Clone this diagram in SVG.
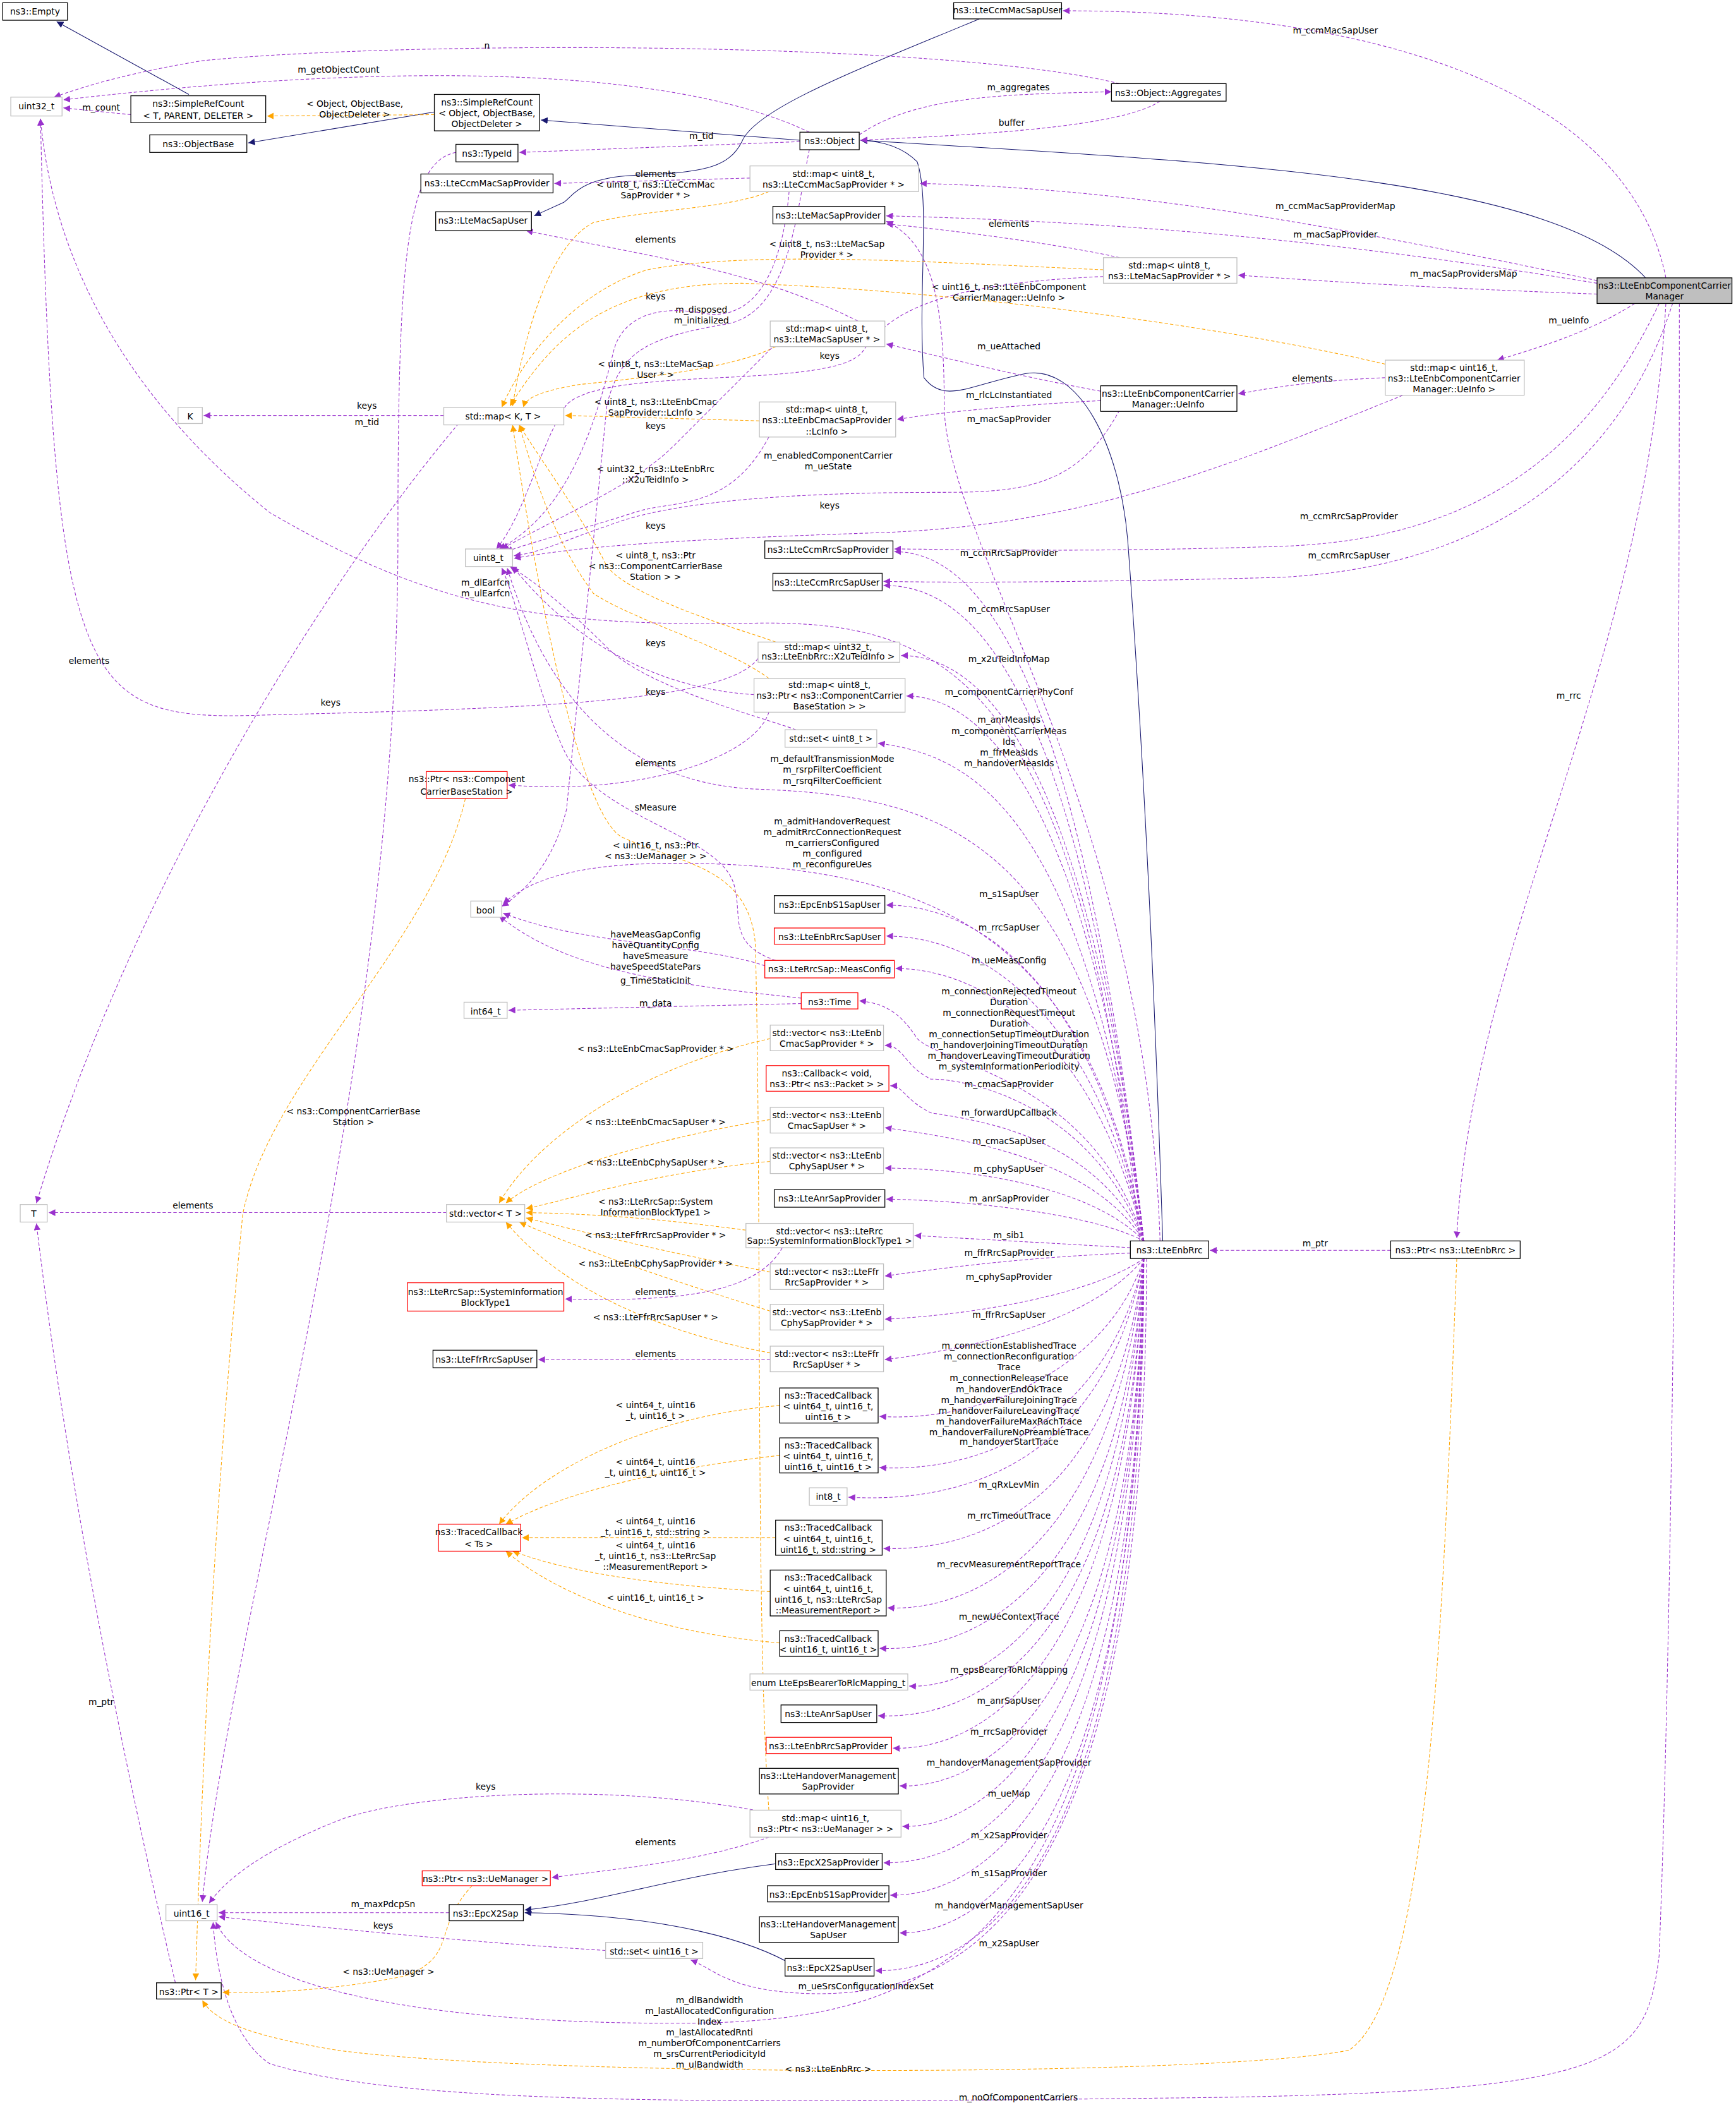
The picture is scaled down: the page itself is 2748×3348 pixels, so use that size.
<svg xmlns="http://www.w3.org/2000/svg" width="2748" height="3348" viewBox="0 0 2748 3348">
<style>
text{font-family:"DejaVu Sans","Liberation Sans",sans-serif;font-size:6.5px;text-anchor:middle;fill:#000}
.b{fill:#fff;stroke:#000;stroke-width:0.6}
.g{fill:#fff;stroke:#bfbfbf;stroke-width:0.6}
.r{fill:#fff;stroke:#ff0000;stroke-width:0.6}
.s{fill:#bfbfbf;stroke:#000;stroke-width:0.6}
.e{fill:none;stroke:#9a32cd;stroke-width:0.5;stroke-dasharray:2.5,1.5;marker-end:url(#mp)}
.o{fill:none;stroke:#ffa500;stroke-width:0.5;stroke-dasharray:2.5,1.5;marker-end:url(#mo)}
.i{fill:none;stroke:#191970;stroke-width:0.5;marker-end:url(#mi)}
</style>
<defs>
<marker id="mp" markerUnits="userSpaceOnUse" markerWidth="6" markerHeight="5" refX="5" refY="2.5" orient="auto"><path d="M0,0 L5,2.5 L0,5 z" fill="#9a32cd"/></marker>
<marker id="mo" markerUnits="userSpaceOnUse" markerWidth="6" markerHeight="5" refX="5" refY="2.5" orient="auto"><path d="M0,0 L5,2.5 L0,5 z" fill="#ffa500"/></marker>
<marker id="mi" markerUnits="userSpaceOnUse" markerWidth="6" markerHeight="5" refX="5" refY="2.5" orient="auto"><path d="M0,0 L5,2.5 L0,5 z" fill="#191970"/></marker>
</defs>
<rect width="2748" height="3348" fill="#fff"/>
<g transform="scale(2.1352)">
<g id="edges">
<path class="i" d="M140,70 L42,16"/>
<path class="i" d="M322,83 L184,106"/>
<path class="i" d="M593,104 L401,89"/>
<path class="i" d="M1220,206 C1150,130 900,120 638,104"/>
<path class="i" d="M726,14 C640,50 560,80 550,105 C540,125 520,128 470,130 C430,132 425,145 418,150 L396,160"/>
<path class="i" d="M862,920 C855,700 845,520 836,400 C830,330 800,270 760,277 C720,285 700,300 685,280 C680,220 690,150 680,120 Q665,105 638,104"/>
<path class="i" d="M590,1380 C500,1390 450,1410 389,1416"/>
<path class="i" d="M590,1458 C560,1440 500,1420 389,1418"/>
<path class="e" d="M600,98 C500,50 300,45 47,74"/><text x="251" y="54">m_getObjectCount</text>
<path class="e" d="M830,62 C700,30 300,30 150,45 C90,55 60,65 40,72"/><text x="361" y="36">n</text>
<path class="e" d="M97,85 L47,80"/><text x="75" y="82">m_count</text>
<path class="o" d="M322,85 L198,86"/><text x="263" y="79">&lt; Object, ObjectBase,</text><text x="263" y="87">ObjectDeleter &gt;</text>
<path class="e" d="M637,100 C680,70 750,70 824,68"/><text x="755" y="67">m_aggregates</text>
<path class="e" d="M860,75 C830,95 720,100 638,104"/><text x="750" y="93">buffer</text>
<path class="e" d="M593,105 L385,113"/><text x="520" y="103">m_tid</text>
<path class="e" d="M338,113 C300,120 295,200 295,400 C295,800 170,1200 150,1410"/>
<path class="e" d="M329,308 L151,308"/><text x="272" y="303">keys</text><text x="272" y="315">m_tid</text>
<path class="e" d="M340,314 C250,420 100,650 27,892"/><text x="66" y="492">elements</text>
<path class="e" d="M600,111 C590,160 585,230 540,240 C480,250 460,260 450,300 C440,400 430,500 420,600 C410,640 390,660 372,672"/><text x="520" y="232">m_disposed</text><text x="520" y="240">m_initialized</text>
<path class="e" d="M1235,206 C1210,80 1050,8 788,8"/><text x="990" y="25">m_ccmMacSapUser</text>
<path class="e" d="M1184,208 C1000,170 850,140 682,136"/><text x="990" y="155">m_ccmMacSapProviderMap</text>
<path class="e" d="M1184,210 C1000,180 850,165 657,160"/><text x="990" y="176">m_macSapProvider</text>
<path class="e" d="M1184,218 C1100,215 1000,210 918,204"/><text x="1085" y="205">m_macSapProvidersMap</text>
<path class="e" d="M1212,225 C1180,245 1150,255 1110,267"/><text x="1163" y="240">m_ueInfo</text>
<path class="e" d="M1230,225 C1180,330 1100,400 950,405 C800,410 700,407 663,407"/><text x="1000" y="385">m_ccmRrcSapProvider</text>
<path class="e" d="M1240,225 C1200,350 1100,420 950,428 C800,432 700,432 655,431"/><text x="1000" y="414">m_ccmRrcSapUser</text>
<path class="e" d="M1235,225 C1220,500 1090,700 1080,918"/><text x="1163" y="518">m_rrc</text>
<path class="e" d="M1245,225 C1245,700 1240,1200 1230,1450 C1220,1530 1200,1550 900,1555 C500,1560 300,1560 200,1530 C170,1510 160,1460 158,1425"/><text x="755" y="1557">m_noOfComponentCarriers</text>
<path class="e" d="M830,191 C780,180 700,170 657,166"/><text x="748" y="168">elements</text>
<path class="o" d="M818,200 C700,195 560,185 480,200 C430,215 390,260 372,302"/><text x="613" y="183">&lt; uint8_t, ns3::LteMacSap</text><text x="613" y="191">Provider * &gt;</text>
<path class="e" d="M818,205 C700,210 660,230 640,260 C620,290 450,270 420,300 C400,330 390,380 368,407"/><text x="615" y="266">keys</text>
<path class="e" d="M556,132 L411,136"/><text x="486" y="131">elements</text>
<path class="o" d="M570,142 C540,155 480,155 440,165 C410,180 390,240 380,301"/><text x="486" y="139">&lt; uint8_t, ns3::LteCcmMac</text><text x="486" y="147">SapProvider * &gt;</text>
<path class="e" d="M585,142 C580,200 560,240 520,232 C480,225 460,240 455,260 C440,320 420,380 370,407"/><text x="486" y="222">keys</text>
<path class="e" d="M636,238 C560,200 480,190 390,171"/><text x="486" y="180">elements</text>
<path class="o" d="M575,257 C550,270 500,278 430,285 C400,290 390,295 388,302"/><text x="486" y="272">&lt; uint8_t, ns3::LteMacSap</text><text x="486" y="280">User * &gt;</text>
<path class="e" d="M575,255 C540,290 520,310 500,330 C470,360 420,380 372,407"/><text x="486" y="318">keys</text>
<path class="o" d="M563,312 L419,308"/><text x="486" y="300">&lt; uint8_t, ns3::LteEnbCmac</text><text x="486" y="308">SapProvider::LcInfo &gt;</text>
<path class="e" d="M570,324 C540,380 500,370 470,380 C440,390 400,400 375,409"/><text x="486" y="392">keys</text>
<path class="e" d="M816,290 C760,280 700,265 657,255"/><text x="748" y="259">m_ueAttached</text>
<path class="e" d="M816,297 C760,300 700,305 665,311"/><text x="748" y="295">m_rlcLcInstantiated</text>
<path class="e" d="M830,304 C800,360 760,365 700,365 C600,365 500,370 450,390 C420,400 400,410 381,412"/><text x="614" y="340">m_enabledComponentCarrier</text><text x="614" y="348">m_ueState</text>
<path class="e" d="M1027,280 C980,282 950,286 918,292"/><text x="973" y="283">elements</text>
<path class="o" d="M1027,270 C900,240 700,215 550,210 C450,210 410,250 378,301"/><text x="748" y="215">&lt; uint16_t, ns3::LteEnbComponent</text><text x="748" y="223">CarrierManager::UeInfo &gt;</text>
<path class="e" d="M1040,293 C900,350 800,390 650,395 C500,400 430,405 381,414"/><text x="615" y="377">keys</text>
<path class="o" d="M575,476 C560,470 470,445 450,420 C430,380 400,340 385,315"/><text x="486" y="350">&lt; uint32_t, ns3::LteEnbRrc</text><text x="486" y="358">::X2uTeidInfo &gt;</text>
<path class="e" d="M562,488 C540,520 400,525 200,530 C60,535 40,520 30,88"/><text x="245" y="523">keys</text>
<path class="o" d="M570,503 C540,480 470,460 440,440 C410,400 395,350 385,315"/><text x="486" y="414">&lt; uint8_t, ns3::Ptr</text><text x="486" y="422">&lt; ns3::ComponentCarrierBase</text><text x="486" y="430">Station &gt; &gt;</text>
<path class="e" d="M559,515 C480,510 420,470 380,420"/><text x="486" y="479">keys</text>
<path class="e" d="M570,528 C560,560 480,590 377,582"/><text x="486" y="568">elements</text>
<path class="e" d="M590,541 C560,530 480,510 450,480 C420,450 395,430 378,420"/><text x="486" y="515">keys</text>
<path class="o" d="M345,592 C320,700 200,800 180,900 C160,1100 150,1300 145,1468"/><text x="262" y="826">&lt; ns3::ComponentCarrierBase</text><text x="262" y="834">Station &gt;</text>
<path class="o" d="M350,1398 C320,1430 340,1450 300,1465 C250,1475 200,1478 165,1477"/><text x="288" y="1464">&lt; ns3::UeManager &gt;</text>
<path class="o" d="M1080,933 C1070,1200 1060,1480 1000,1520 C900,1540 400,1540 250,1520 C190,1510 160,1500 150,1483"/><text x="614" y="1536">&lt; ns3::LteEnbRrc &gt;</text>
<path class="e" d="M130,1470 C90,1300 50,1100 27,907"/><text x="75" y="1264">m_ptr</text>
<path class="e" d="M1031,927 L897,927"/><text x="975" y="924">m_ptr</text>
<path class="e" d="M570,1362 C520,1380 460,1385 409,1392"/><text x="486" y="1368">elements</text>
<path class="e" d="M570,1344 C450,1320 300,1330 250,1350 C200,1370 170,1390 155,1411"/><text x="360" y="1327">keys</text>
<path class="o" d="M570,1342 C560,1200 565,900 560,700 C555,640 500,640 460,620 C430,600 400,450 380,315"/><text x="486" y="629">&lt; uint16_t, ns3::Ptr</text><text x="486" y="637">&lt; ns3::UeManager &gt; &gt;</text>
<path class="e" d="M567,716 C520,700 430,700 373,677"/><text x="486" y="695">haveMeasGapConfig</text><text x="486" y="703">haveQuantityConfig</text><text x="486" y="711">haveSmeasure</text><text x="486" y="719">haveSpeedStatePars</text>
<path class="e" d="M575,712 C540,700 550,680 545,660 C540,620 450,610 420,560 C400,520 385,450 372,421"/><text x="486" y="601">sMeasure</text>
<path class="e" d="M594,744 L377,749"/><text x="486" y="746">m_data</text>
<path class="e" d="M594,740 C500,730 420,720 370,679"/><text x="486" y="729">g_TimeStaticInit</text>
<path class="e" d="M331,899 L36,899"/><text x="143" y="896">elements</text>
<path class="o" d="M571,770 C480,790 400,840 370,892"/><text x="486" y="780">&lt; ns3::LteEnbCmacSapProvider * &gt;</text>
<path class="o" d="M571,830 C480,845 400,870 375,892"/><text x="486" y="834">&lt; ns3::LteEnbCmacSapUser * &gt;</text>
<path class="o" d="M571,861 C480,870 420,890 390,896"/><text x="486" y="864">&lt; ns3::LteEnbCphySapUser * &gt;</text>
<path class="o" d="M553,912 C500,905 450,900 390,899"/><text x="486" y="893">&lt; ns3::LteRrcSap::System</text><text x="486" y="901">InformationBlockType1 &gt;</text>
<path class="o" d="M571,943 C500,930 440,915 390,903"/><text x="486" y="918">&lt; ns3::LteFfrRrcSapProvider * &gt;</text>
<path class="o" d="M571,972 C500,950 440,930 385,906"/><text x="486" y="939">&lt; ns3::LteEnbCphySapProvider * &gt;</text>
<path class="o" d="M571,1003 C500,990 420,960 375,906"/><text x="486" y="979">&lt; ns3::LteFfrRrcSapUser * &gt;</text>
<path class="e" d="M580,925 C560,960 500,965 419,963"/><text x="486" y="960">elements</text>
<path class="e" d="M571,1008 L399,1008"/><text x="486" y="1006">elements</text>
<path class="o" d="M578,1042 C480,1050 400,1090 370,1130"/><text x="486" y="1044">&lt; uint64_t, uint16</text><text x="486" y="1052">_t, uint16_t &gt;</text>
<path class="o" d="M578,1079 C480,1090 410,1110 375,1130"/><text x="486" y="1086">&lt; uint64_t, uint16</text><text x="486" y="1094">_t, uint16_t, uint16_t &gt;</text>
<path class="o" d="M575,1140 L387,1140"/><text x="486" y="1130">&lt; uint64_t, uint16</text><text x="486" y="1138">_t, uint16_t, std::string &gt;</text>
<path class="o" d="M571,1180 C480,1175 420,1165 380,1150"/><text x="486" y="1148">&lt; uint64_t, uint16</text><text x="486" y="1156">_t, uint16_t, ns3::LteRrcSap</text><text x="486" y="1164">::MeasurementReport &gt;</text>
<path class="o" d="M578,1218 C480,1210 410,1180 375,1150"/><text x="486" y="1187">&lt; uint16_t, uint16_t &gt;</text>
<path class="e" d="M333,1418 L162,1418"/><text x="284" y="1414">m_maxPdcpSn</text>
<path class="e" d="M449,1446 C350,1440 250,1430 162,1421"/><text x="284" y="1430">keys</text>
<path class="e" d="M848,920 C800,480 720,409 663,409"/><text x="748" y="412">m_ccmRrcSapProvider</text>
<path class="e" d="M848,920 C800,500 720,434 655,434"/><text x="748" y="454">m_ccmRrcSapUser</text>
<path class="e" d="M848,920 C805,540 720,486 668,486"/><text x="748" y="491">m_x2uTeidInfoMap</text>
<path class="e" d="M848,920 C805,570 720,516 672,516"/><text x="748" y="515">m_componentCarrierPhyConf</text>
<path class="e" d="M848,920 C805,600 720,560 651,551"/><text x="748" y="536">m_anrMeasIds</text><text x="748" y="544">m_componentCarrierMeas</text><text x="748" y="552">Ids</text><text x="748" y="560">m_ffrMeasIds</text><text x="748" y="568">m_handoverMeasIds</text>
<path class="e" d="M848,920 C810,620 700,590 560,585 C450,580 400,500 376,421"/><text x="617" y="565">m_defaultTransmissionMode</text><text x="617" y="573">m_rsrpFilterCoefficient</text><text x="617" y="581">m_rsrqFilterCoefficient</text>
<path class="e" d="M848,920 C810,700 700,640 500,640 C420,640 390,655 373,670"/><text x="617" y="611">m_admitHandoverRequest</text><text x="617" y="619">m_admitRrcConnectionRequest</text><text x="617" y="627">m_carriersConfigured</text><text x="617" y="635">m_configured</text><text x="617" y="643">m_reconfigureUes</text>
<path class="e" d="M848,920 C810,720 720,671 657,671"/><text x="748" y="665">m_s1SapUser</text>
<path class="e" d="M848,920 C810,740 720,694 657,694"/><text x="748" y="690">m_rrcSapUser</text>
<path class="e" d="M848,920 C810,760 720,718 664,718"/><text x="748" y="714">m_ueMeasConfig</text>
<path class="e" d="M848,920 C810,800 700,790 680,770 C670,755 660,744 637,742"/><text x="748" y="737">m_connectionRejectedTimeout</text><text x="748" y="745">Duration</text><text x="748" y="753">m_connectionRequestTimeout</text><text x="748" y="761">Duration</text><text x="748" y="769">m_connectionSetupTimeoutDuration</text><text x="748" y="777">m_handoverJoiningTimeoutDuration</text><text x="748" y="785">m_handoverLeavingTimeoutDuration</text><text x="748" y="793">m_systemInformationPeriodicity</text>
<path class="e" d="M848,920 C810,820 720,800 690,800 C670,790 670,775 656,775"/><text x="748" y="806">m_cmacSapProvider</text>
<path class="e" d="M848,920 C810,840 720,830 690,825 C670,815 670,805 660,805"/><text x="748" y="827">m_forwardUpCallback</text>
<path class="e" d="M848,920 C810,860 720,845 656,836"/><text x="748" y="848">m_cmacSapUser</text>
<path class="e" d="M848,920 C810,880 720,866 656,866"/><text x="748" y="869">m_cphySapUser</text>
<path class="e" d="M848,920 C810,900 720,890 657,889"/><text x="748" y="891">m_anrSapProvider</text>
<path class="e" d="M838,925 L678,916"/><text x="748" y="918">m_sib1</text>
<path class="e" d="M838,929 C760,932 700,940 656,946"/><text x="748" y="931">m_ffrRrcSapProvider</text>
<path class="e" d="M848,933 C810,960 720,975 656,978"/><text x="748" y="949">m_cphySapProvider</text>
<path class="e" d="M848,933 C810,980 720,1000 656,1008"/><text x="748" y="977">m_ffrRrcSapUser</text>
<path class="e" d="M848,933 C820,1020 720,1055 652,1050"/><text x="748" y="1000">m_connectionEstablishedTrace</text><text x="748" y="1008">m_connectionReconfiguration</text><text x="748" y="1016">Trace</text><text x="748" y="1024">m_connectionReleaseTrace</text><text x="748" y="1032">m_handoverEndOkTrace</text><text x="748" y="1040">m_handoverFailureJoiningTrace</text><text x="748" y="1048">m_handoverFailureLeavingTrace</text><text x="748" y="1056">m_handoverFailureMaxRachTrace</text><text x="748" y="1064">m_handoverFailureNoPreambleTrace</text>
<path class="e" d="M848,933 C820,1060 720,1092 652,1088"/><text x="748" y="1071">m_handoverStartTrace</text>
<path class="e" d="M848,933 C820,1080 720,1115 629,1110"/><text x="748" y="1103">m_qRxLevMin</text>
<path class="e" d="M848,933 C825,1120 720,1150 655,1148"/><text x="748" y="1126">m_rrcTimeoutTrace</text>
<path class="e" d="M848,933 C825,1150 720,1195 658,1192"/><text x="748" y="1162">m_recvMeasurementReportTrace</text>
<path class="e" d="M848,933 C830,1180 720,1225 652,1222"/><text x="748" y="1201">m_newUeContextTrace</text>
<path class="e" d="M848,933 C830,1210 720,1252 674,1250"/><text x="748" y="1240">m_epsBearerToRlcMapping</text>
<path class="e" d="M848,933 C835,1230 720,1275 651,1272"/><text x="748" y="1263">m_anrSapUser</text>
<path class="e" d="M848,933 C835,1250 720,1298 662,1296"/><text x="748" y="1286">m_rrcSapProvider</text>
<path class="e" d="M848,933 C840,1280 720,1326 667,1324"/><text x="748" y="1309">m_handoverManagementSapProvider</text>
<path class="e" d="M848,933 C840,1300 720,1356 669,1354"/><text x="748" y="1332">m_ueMap</text>
<path class="e" d="M848,933 C840,1330 720,1382 655,1381"/><text x="748" y="1363">m_x2SapProvider</text>
<path class="e" d="M848,933 C845,1350 720,1406 660,1405"/><text x="748" y="1391">m_s1SapProvider</text>
<path class="e" d="M848,933 C845,1380 720,1434 667,1433"/><text x="748" y="1415">m_handoverManagementSapUser</text>
<path class="e" d="M848,933 C848,1400 720,1462 649,1461"/><text x="748" y="1443">m_x2SapUser</text>
<path class="e" d="M850,933 C850,1440 700,1480 600,1478 C540,1476 530,1460 512,1453"/><text x="642" y="1475">m_ueSrsConfigurationIndexSet</text>
<path class="e" d="M848,933 C840,1450 700,1500 500,1500 C300,1500 180,1470 160,1425"/><text x="526" y="1485">m_dlBandwidth</text><text x="526" y="1493">m_lastAllocatedConfiguration</text><text x="526" y="1501">Index</text><text x="526" y="1509">m_lastAllocatedRnti</text><text x="526" y="1517">m_numberOfComponentCarriers</text><text x="526" y="1525">m_srsCurrentPeriodicityId</text><text x="526" y="1533">m_ulBandwidth</text>
<path class="e" d="M845,920 C800,500 700,460 560,462 C400,465 320,450 200,380 C100,300 40,200 30,88"/><text x="360" y="434">m_dlEarfcn</text><text x="360" y="442">m_ulEarfcn</text>
<path class="e" d="M860,920 C850,600 700,400 700,300 C700,220 690,180 657,164"/><text x="748" y="313">m_macSapProvider</text>
</g>
<g id="n_empty"><rect class="b" x="2" y="2" width="48" height="13"/><text x="26" y="11">ns3::Empty</text></g>
<g id="n_uint32"><rect class="g" x="8" y="72" width="38" height="14"/><text x="27" y="81">uint32_t</text></g>
<g id="n_srcT"><rect class="b" x="97" y="71" width="100" height="20"/><text x="147" y="79">ns3::SimpleRefCount</text><text x="147" y="88">&lt; T, PARENT, DELETER &gt;</text></g>
<g id="n_objbase"><rect class="b" x="111" y="100" width="72" height="13"/><text x="147" y="109">ns3::ObjectBase</text></g>
<g id="n_srcO"><rect class="b" x="322" y="70" width="78" height="27"/><text x="361" y="78">ns3::SimpleRefCount</text><text x="361" y="86">&lt; Object, ObjectBase,</text><text x="361" y="94">ObjectDeleter &gt;</text></g>
<g id="n_typeid"><rect class="b" x="338" y="107" width="46" height="13"/><text x="361" y="116">ns3::TypeId</text></g>
<g id="n_ccmmacprov"><rect class="b" x="312" y="129" width="98" height="14"/><text x="361" y="138">ns3::LteCcmMacSapProvider</text></g>
<g id="n_macsapuser"><rect class="b" x="323" y="157" width="71" height="14"/><text x="358" y="166">ns3::LteMacSapUser</text></g>
<g id="n_ccmmacuser"><rect class="b" x="707" y="2" width="80" height="12"/><text x="747" y="10">ns3::LteCcmMacSapUser</text></g>
<g id="n_aggr"><rect class="b" x="824" y="62" width="85" height="13"/><text x="866" y="71">ns3::Object::Aggregates</text></g>
<g id="n_object"><rect class="b" x="593" y="98" width="44" height="13"/><text x="615" y="107">ns3::Object</text></g>
<g id="n_mapccmprov"><rect class="g" x="556" y="123" width="125" height="19"/><text x="618" y="131">std::map&lt; uint8_t,</text><text x="618" y="139">ns3::LteCcmMacSapProvider * &gt;</text></g>
<g id="n_macprov"><rect class="b" x="573" y="153" width="83" height="13"/><text x="614" y="162">ns3::LteMacSapProvider</text></g>
<g id="n_mapmacprov"><rect class="g" x="818" y="191" width="99" height="19"/><text x="867" y="199">std::map&lt; uint8_t,</text><text x="867" y="207">ns3::LteMacSapProvider * &gt;</text></g>
<g id="n_ccm"><rect class="s" x="1184" y="206" width="100" height="19"/><text x="1234" y="214">ns3::LteEnbComponentCarrier</text><text x="1234" y="222">Manager</text></g>
<g id="n_mapmacuser"><rect class="g" x="571" y="238" width="85" height="19"/><text x="613" y="246">std::map&lt; uint8_t,</text><text x="613" y="254">ns3::LteMacSapUser * &gt;</text></g>
<g id="n_mapueinfo"><rect class="g" x="1027" y="267" width="103" height="26"/><text x="1078" y="275">std::map&lt; uint16_t,</text><text x="1078" y="283">ns3::LteEnbComponentCarrier</text><text x="1078" y="291">Manager::UeInfo &gt;</text></g>
<g id="n_ueinfo"><rect class="b" x="816" y="286" width="101" height="19"/><text x="866" y="294">ns3::LteEnbComponentCarrier</text><text x="866" y="302">Manager::UeInfo</text></g>
<g id="n_maplcinfo"><rect class="g" x="563" y="298" width="101" height="26"/><text x="613" y="306">std::map&lt; uint8_t,</text><text x="613" y="314">ns3::LteEnbCmacSapProvider</text><text x="613" y="322">::LcInfo &gt;</text></g>
<g id="n_K"><rect class="g" x="132" y="302" width="18" height="12"/><text x="141" y="311">K</text></g>
<g id="n_mapKT"><rect class="g" x="329" y="302" width="89" height="13"/><text x="373" y="311">std::map&lt; K, T &gt;</text></g>
<g id="n_uint8"><rect class="g" x="345" y="407" width="35" height="13"/><text x="362" y="416">uint8_t</text></g>
<g id="n_ccmrrcprov"><rect class="b" x="567" y="401" width="95" height="13"/><text x="614" y="410">ns3::LteCcmRrcSapProvider</text></g>
<g id="n_ccmrrcuser"><rect class="b" x="573" y="425" width="81" height="13"/><text x="613" y="434">ns3::LteCcmRrcSapUser</text></g>
<g id="n_mapx2u"><rect class="g" x="562" y="476" width="105" height="15"/><text x="614" y="482">std::map&lt; uint32_t,</text><text x="614" y="489">ns3::LteEnbRrc::X2uTeidInfo &gt;</text></g>
<g id="n_mapccbs"><rect class="g" x="559" y="503" width="112" height="25"/><text x="615" y="510">std::map&lt; uint8_t,</text><text x="615" y="518">ns3::Ptr&lt; ns3::ComponentCarrier</text><text x="615" y="526">BaseStation &gt; &gt;</text></g>
<g id="n_setu8"><rect class="g" x="582" y="541" width="68" height="13"/><text x="616" y="550">std::set&lt; uint8_t &gt;</text></g>
<g id="n_ptrccbs"><rect class="r" x="316" y="572" width="60" height="20"/><text x="346" y="580">ns3::Ptr&lt; ns3::Component</text><text x="346" y="589">CarrierBaseStation &gt;</text></g>
<g id="n_bool"><rect class="g" x="349" y="668" width="23" height="12"/><text x="360" y="677">bool</text></g>
<g id="n_s1user"><rect class="b" x="574" y="664" width="82" height="13"/><text x="615" y="673">ns3::EpcEnbS1SapUser</text></g>
<g id="n_rrcsapuser"><rect class="r" x="574" y="688" width="82" height="12"/><text x="615" y="697">ns3::LteEnbRrcSapUser</text></g>
<g id="n_measconfig"><rect class="r" x="567" y="712" width="96" height="13"/><text x="615" y="721">ns3::LteRrcSap::MeasConfig</text></g>
<g id="n_time"><rect class="r" x="594" y="736" width="42" height="12"/><text x="615" y="745">ns3::Time</text></g>
<g id="n_int64"><rect class="g" x="344" y="743" width="32" height="12"/><text x="360" y="752">int64_t</text></g>
<g id="n_vcmacprov"><rect class="g" x="571" y="760" width="84" height="19"/><text x="613" y="768">std::vector&lt; ns3::LteEnb</text><text x="613" y="776">CmacSapProvider * &gt;</text></g>
<g id="n_callback"><rect class="r" x="568" y="790" width="91" height="19"/><text x="613" y="798">ns3::Callback&lt; void,</text><text x="613" y="806">ns3::Ptr&lt; ns3::Packet &gt; &gt;</text></g>
<g id="n_vcmacuser"><rect class="g" x="571" y="821" width="84" height="19"/><text x="613" y="829">std::vector&lt; ns3::LteEnb</text><text x="613" y="837">CmacSapUser * &gt;</text></g>
<g id="n_vcphyuser"><rect class="g" x="571" y="851" width="84" height="19"/><text x="613" y="859">std::vector&lt; ns3::LteEnb</text><text x="613" y="867">CphySapUser * &gt;</text></g>
<g id="n_anrprov"><rect class="b" x="574" y="882" width="82" height="13"/><text x="615" y="891">ns3::LteAnrSapProvider</text></g>
<g id="n_vsib1"><rect class="g" x="553" y="907" width="124" height="18"/><text x="615" y="915">std::vector&lt; ns3::LteRrc</text><text x="615" y="922">Sap::SystemInformationBlockType1 &gt;</text></g>
<g id="n_vT"><rect class="g" x="331" y="893" width="58" height="13"/><text x="360" y="902">std::vector&lt; T &gt;</text></g>
<g id="n_T"><rect class="g" x="15" y="893" width="20" height="13"/><text x="25" y="902">T</text></g>
<g id="n_vffrprov"><rect class="g" x="571" y="937" width="84" height="19"/><text x="613" y="945">std::vector&lt; ns3::LteFfr</text><text x="613" y="953">RrcSapProvider * &gt;</text></g>
<g id="n_rrc"><rect class="b" x="838" y="920" width="58" height="13"/><text x="867" y="929">ns3::LteEnbRrc</text></g>
<g id="n_ptrrrc"><rect class="b" x="1031" y="920" width="96" height="13"/><text x="1079" y="929">ns3::Ptr&lt; ns3::LteEnbRrc &gt;</text></g>
<g id="n_sib1"><rect class="r" x="302" y="951" width="116" height="21"/><text x="360" y="960">ns3::LteRrcSap::SystemInformation</text><text x="360" y="968">BlockType1</text></g>
<g id="n_vcphyprov"><rect class="g" x="571" y="967" width="84" height="19"/><text x="613" y="975">std::vector&lt; ns3::LteEnb</text><text x="613" y="983">CphySapProvider * &gt;</text></g>
<g id="n_ffruser"><rect class="b" x="321" y="1001" width="77" height="13"/><text x="359" y="1010">ns3::LteFfrRrcSapUser</text></g>
<g id="n_vffruser"><rect class="g" x="571" y="998" width="84" height="19"/><text x="613" y="1006">std::vector&lt; ns3::LteFfr</text><text x="613" y="1014">RrcSapUser * &gt;</text></g>
<g id="n_tc1"><rect class="b" x="578" y="1029" width="73" height="26"/><text x="614" y="1037">ns3::TracedCallback</text><text x="614" y="1045">&lt; uint64_t, uint16_t,</text><text x="614" y="1053">uint16_t &gt;</text></g>
<g id="n_tc2"><rect class="b" x="578" y="1066" width="73" height="26"/><text x="614" y="1074">ns3::TracedCallback</text><text x="614" y="1082">&lt; uint64_t, uint16_t,</text><text x="614" y="1090">uint16_t, uint16_t &gt;</text></g>
<g id="n_int8"><rect class="g" x="600" y="1103" width="28" height="13"/><text x="614" y="1112">int8_t</text></g>
<g id="n_tcTs"><rect class="r" x="325" y="1130" width="61" height="20"/><text x="355" y="1138">ns3::TracedCallback</text><text x="355" y="1147">&lt; Ts &gt;</text></g>
<g id="n_tc3"><rect class="b" x="575" y="1127" width="79" height="26"/><text x="614" y="1135">ns3::TracedCallback</text><text x="614" y="1143">&lt; uint64_t, uint16_t,</text><text x="614" y="1151">uint16_t, std::string &gt;</text></g>
<g id="n_tc4"><rect class="b" x="571" y="1164" width="86" height="34"/><text x="614" y="1172">ns3::TracedCallback</text><text x="614" y="1180">&lt; uint64_t, uint16_t,</text><text x="614" y="1188">uint16_t, ns3::LteRrcSap</text><text x="614" y="1196">::MeasurementReport &gt;</text></g>
<g id="n_tc5"><rect class="b" x="578" y="1209" width="73" height="19"/><text x="614" y="1217">ns3::TracedCallback</text><text x="614" y="1225">&lt; uint16_t, uint16_t &gt;</text></g>
<g id="n_enum"><rect class="g" x="556" y="1241" width="117" height="12"/><text x="614" y="1250">enum LteEpsBearerToRlcMapping_t</text></g>
<g id="n_anruser"><rect class="b" x="579" y="1264" width="71" height="13"/><text x="614" y="1273">ns3::LteAnrSapUser</text></g>
<g id="n_rrcprov"><rect class="r" x="568" y="1288" width="93" height="12"/><text x="614" y="1297">ns3::LteEnbRrcSapProvider</text></g>
<g id="n_homprov"><rect class="b" x="563" y="1311" width="103" height="19"/><text x="614" y="1319">ns3::LteHandoverManagement</text><text x="614" y="1327">SapProvider</text></g>
<g id="n_mapue"><rect class="g" x="556" y="1342" width="112" height="20"/><text x="612" y="1350">std::map&lt; uint16_t,</text><text x="612" y="1358">ns3::Ptr&lt; ns3::UeManager &gt; &gt;</text></g>
<g id="n_ptrue"><rect class="r" x="313" y="1387" width="95" height="11"/><text x="360" y="1395">ns3::Ptr&lt; ns3::UeManager &gt;</text></g>
<g id="n_x2prov"><rect class="b" x="575" y="1374" width="79" height="12"/><text x="614" y="1383">ns3::EpcX2SapProvider</text></g>
<g id="n_uint16"><rect class="g" x="123" y="1412" width="38" height="12"/><text x="142" y="1421">uint16_t</text></g>
<g id="n_x2sap"><rect class="b" x="333" y="1412" width="55" height="12"/><text x="360" y="1421">ns3::EpcX2Sap</text></g>
<g id="n_s1prov"><rect class="b" x="569" y="1398" width="90" height="12"/><text x="614" y="1407">ns3::EpcEnbS1SapProvider</text></g>
<g id="n_homuser"><rect class="b" x="563" y="1421" width="103" height="19"/><text x="614" y="1429">ns3::LteHandoverManagement</text><text x="614" y="1437">SapUser</text></g>
<g id="n_setu16"><rect class="g" x="449" y="1440" width="72" height="12"/><text x="485" y="1449">std::set&lt; uint16_t &gt;</text></g>
<g id="n_x2user"><rect class="b" x="582" y="1452" width="66" height="13"/><text x="615" y="1461">ns3::EpcX2SapUser</text></g>
<g id="n_ptrT"><rect class="b" x="116" y="1470" width="48" height="12"/><text x="140" y="1479">ns3::Ptr&lt; T &gt;</text></g>
</g>
</svg>
